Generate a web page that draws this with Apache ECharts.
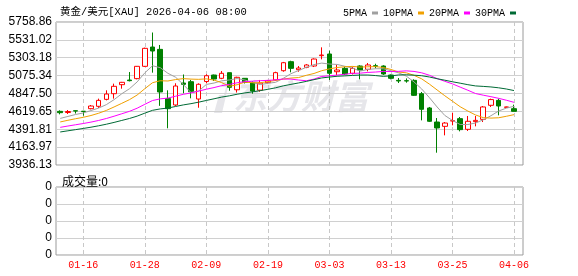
<!DOCTYPE html>
<html>
<head>
<meta charset="utf-8">
<script src="https://cdn.jsdelivr.net/npm/echarts@6/dist/echarts.min.js"></script>
<style>
html,body{margin:0;padding:0;background:#fff;}
#c{width:578px;height:276px;}
</style>
</head>
<body>
<div id="c"></div>
<script>
// ---- data ----
const dates = ['01-13','01-14','01-15','01-16','01-19','01-20','01-21','01-22','01-23','01-26',
  '01-27','01-28','01-29','01-30','02-02','02-03','02-04','02-05','02-06','02-09',
  '02-10','02-11','02-12','02-13','02-16','02-17','02-18','02-19','02-20','02-23',
  '02-24','02-25','02-26','02-27','03-02','03-03','03-04','03-05','03-06','03-09',
  '03-10','03-11','03-12','03-13','03-16','03-17','03-18','03-19','03-20','03-23',
  '03-24','03-25','03-26','03-27','03-30','03-31','04-01','04-02','04-03','04-06'];
const opens = [4620,4605,4628,4622,4654,4684,4773,4845,4960,5019,
  5037,5194,5440,5410,4782,4701,4981,4998,4777,5000,
  5083,5041,5113,4895,5041,4985,4890,4985,5020,5138,
  5253,5151,5181,5198,5330,5351,5125,5168,5105,5198,
  5156,5202,5198,5083,5015,5011,5015,4845,4663,4484,
  4429,4497,4527,4391,4489,4518,4697,4760,4671,4654];
const closes = [4603,4618,4624,4618,4688,4760,4841,4939,4990,5011,
  5194,5423,5389,4867,4654,4943,4964,4870,4965,5074,
  5032,5105,4926,5054,4990,4878,4980,5011,5113,5240,
  5168,5172,5211,5287,5338,5105,5147,5096,5168,5147,
  5211,5194,5096,5041,5007,5007,4824,4646,4493,4408,
  4471,4501,4387,4493,4505,4676,4770,4688,4676,4620];
const lows = [4582,4586,4592,4565,4645,4663,4760,4782,4909,5002,
  5028,5185,5113,4690,4404,4688,4850,4786,4666,4977,
  5007,5030,4883,4860,4975,4845,4870,4975,5010,5125,
  5117,5125,5170,5185,5283,5020,5083,5083,5090,5028,
  5130,5168,5085,5028,4981,4985,4816,4505,4484,4093,
  4314,4442,4365,4370,4429,4484,4676,4569,4665,4620];
const highs = [4633,4637,4630,4625,4701,4782,4888,4973,4995,5121,
  5198,5432,5625,5466,4888,4978,5090,5020,4977,5092,
  5088,5134,5113,5061,5045,5002,5020,5020,5125,5250,
  5265,5198,5222,5295,5436,5393,5211,5190,5190,5207,
  5236,5227,5207,5090,5045,5040,5028,4867,4676,4535,
  4484,4603,4548,4561,4561,4688,4782,4782,4680,4705];
const ma5 = [4530,4555,4580,4600,4630,4662,4706,4769,4844,4908,
  4995,5111,5201,5177,5105,5055,4963,4860,4879,4963,
  4981,5009,5020,5038,5020,4988,4961,4978,4990,5041,
  5100,5141,5181,5216,5235,5223,5218,5195,5171,5133,
  5154,5163,5163,5138,5110,5069,4995,4905,4795,4676,
  4568,4504,4452,4452,4471,4512,4564,4624,4661,4684];
const ma10 = [4485,4506,4526,4544,4567,4596,4632,4676,4722,4769,
  4828,4909,4985,5010,5007,5025,5037,5031,5028,5034,
  5018,4986,4940,4959,4992,4985,4985,4999,5014,5031,
  5044,5051,5079,5103,5138,5161,5179,5188,5193,5184,
  5188,5190,5179,5154,5121,5111,5079,5034,4967,4893,
  4819,4749,4679,4624,4574,4540,4534,4538,4557,4578];
const ma20 = [4416,4433,4449,4465,4483,4504,4529,4558,4589,4620,
  4660,4710,4758,4779,4789,4813,4837,4855,4878,4902,
  4923,4948,4963,4984,4999,5005,5011,5015,5021,5032,
  5031,5019,5010,5031,5065,5073,5082,5093,5104,5107,
  5116,5121,5129,5128,5130,5136,5129,5111,5080,5038,
  5003,4970,4929,4889,4847,4826,4807,4786,4762,4735];
const ma30 = [4357,4372,4387,4402,4418,4436,4456,4479,4504,4529,
  4559,4597,4633,4651,4662,4682,4702,4718,4737,4759,
  4780,4802,4818,4838,4855,4868,4884,4901,4920,4945,
  4964,4982,5002,5024,5046,5057,5067,5072,5078,5083,
  5083,5076,5066,5072,5084,5086,5081,5074,5058,5036,
  5017,4997,4979,4960,4944,4938,4931,4920,4905,4885];
const volumes = [0,0,0,0,0,0,0,0,0,0, 0,0,0,0,0,0,0,0,0,0, 0,0,0,0,0,0,0,0,0,0,
  0,0,0,0,0,0,0,0,0,0, 0,0,0,0,0,0,0,0,0,0, 0,0,0,0,0,0,0,0,0,0];
const dateTicks = ['01-16','01-28','02-09','02-19','03-03','03-13','03-25','04-06'];
const priceTicks = ['3936.13','4163.97','4391.81','4619.65','4847.50','5075.34','5303.18','5531.02','5758.86'];
const volTicks = ['0','0','0','0','0'];
const maNames = ['5PMA','10PMA','20PMA','30PMA'];
const titleText = '黄金/美元[XAU] 2026-04-06 08:00';
const volText = '成交量:0';
const watermark = '东方财富';

// ---- chart ----
const chart = echarts.init(document.getElementById('c'), null, {renderer: 'canvas'});
const xTickIdx = dateTicks.map(d => dates.indexOf(d));
const priceVals = priceTicks.map(Number);
const mono = "'Liberation Mono', 'DejaVu Sans Mono', 'Noto Sans CJK SC', monospace";
const sans = "'Liberation Sans', Arial, sans-serif";
const maColors = ['#a0a0a0', '#f0a000', '#ff00ff', '#006a35'];
const maData = [ma5, ma10, ma20, ma30];

function xAxisCfg(gridIndex, showLabel) {
  return {
    type: 'value', gridIndex: gridIndex, min: -0.55, max: 60.17,
    axisLine: {show: false},
    axisTick: {show: false, customValues: xTickIdx},
    axisLabel: {
      show: showLabel, customValues: xTickIdx, color: '#ff0000', margin: 5,
      fontFamily: mono, fontSize: 10,
      formatter: v => dates[Math.round(v)]
    },
    splitLine: {show: true, lineStyle: {color: '#c8c8c8', type: [4, 3], width: 1}}
  };
}

const option = {
  animation: false,
  backgroundColor: '#ffffff',
  title: [
    {text: titleText, left: 55, top: 2, textStyle: {fontFamily: mono, fontSize: 10.5, fontWeight: 'normal', color: '#000'}},
    {text: volText, left: 57, top: 170, textStyle: {fontFamily: "'Noto Sans CJK SC', sans-serif", fontSize: 12, fontWeight: 'normal', color: '#000'}}
  ],
  legend: {
    data: maNames, left: 338, top: 3, itemGap: 5, align: 'right',
    icon: 'rect', itemWidth: 6, itemHeight: 3,
    textStyle: {fontFamily: mono, fontSize: 10, color: '#000'}
  },
  graphic: [
    {type: 'text', left: 233, top: 79, z: -10, silent: true,
      style: {text: watermark, fill: '#e6e6ea', font: "italic bold 34px 'Noto Sans CJK SC'"}},
    {type: 'polygon', z: -10, silent: true,
      shape: {points: [[222,82],[233,82],[232,87],[228,87],[222,113],[214,113],[219,95],[224,95],[226,87],[221,87]]},
      style: {fill: '#e6e6ea'}}
  ],
  grid: [
    {left: 56, right: 55, top: 22, height: 143, show: true, borderColor: '#9a9a9a', borderWidth: 1, backgroundColor: 'transparent'},
    {left: 56, right: 55, top: 187, height: 68, show: true, borderColor: '#9a9a9a', borderWidth: 1, backgroundColor: 'transparent'}
  ],
  xAxis: [xAxisCfg(0, false), xAxisCfg(1, true)],
  yAxis: [
    {
      type: 'value', gridIndex: 0, min: priceVals[0], max: priceVals[priceVals.length - 1],
      axisLine: {show: false},
      axisTick: {show: false, customValues: priceVals},
      axisLabel: {customValues: priceVals, formatter: v => v.toFixed(2), color: '#000', fontFamily: sans, fontSize: 12, margin: 4},
      splitLine: {show: true, lineStyle: {color: '#d0d0d0', width: 1}}
    },
    {
      type: 'value', gridIndex: 1, min: 0, max: 4, interval: 1,
      axisLine: {show: false}, axisTick: {show: false},
      axisLabel: {formatter: (v, i) => volTicks[i] !== undefined ? volTicks[i] : '0', color: '#000', fontFamily: sans, fontSize: 12, margin: 4},
      splitLine: {show: true, lineStyle: {color: '#d0d0d0', width: 1}}
    }
  ],
  series: [
    {
      type: 'candlestick', xAxisIndex: 0, yAxisIndex: 0, barWidth: 5, z: 2,
      data: opens.map((o, i) => [i, o, closes[i], lows[i], highs[i]]),
      itemStyle: {color: '#ffffff', color0: '#008000', borderColor: '#ff0000', borderColor0: '#008000', borderWidth: 1}
    }
  ].concat(maNames.map((n, k) => ({
    name: n, type: 'line', xAxisIndex: 0, yAxisIndex: 0, z: 3,
    data: maData[k].map((v, i) => [i, v]),
    symbol: 'none', smooth: false, color: maColors[k],
    lineStyle: {width: 1, color: maColors[k]}
  }))).concat([
    {type: 'bar', xAxisIndex: 1, yAxisIndex: 1, data: volumes.map((v, i) => [i, v]), barWidth: 5, itemStyle: {color: '#008000'}}
  ])
};
chart.setOption(option);
</script>
</body>
</html>
